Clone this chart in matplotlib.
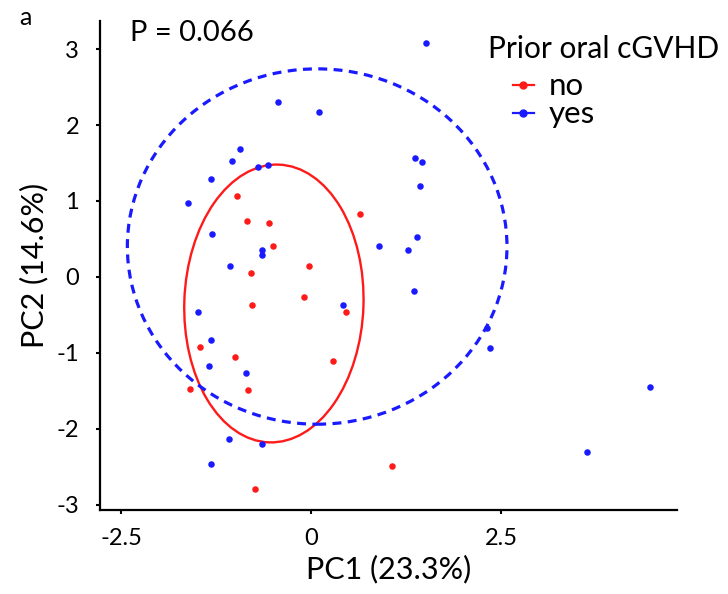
import numpy as np
import matplotlib.pyplot as plt
from matplotlib.patches import Ellipse
from matplotlib.lines import Line2D

plt.rcParams['font.family'] = ['Lato', 'DejaVu Sans']

# PCA scores
no_pc1 = [-0.97, -0.85, -0.55, 0.64, -0.50, -0.03, -0.79, -0.09, -0.78, 0.46,
          -1.46, -1.00, 0.29, -1.59, -0.83, -0.74, 1.06]
no_pc2 = [1.07, 0.74, 0.71, 0.83, 0.41, 0.14, 0.05, -0.27, -0.37, -0.46,
          -0.92, -1.06, -1.11, -1.48, -1.49, -2.79, -2.49]

yes_pc1 = [-0.44, 0.11, -0.94, -1.04, -0.70, -0.57, -1.32, -1.62, -1.30, -0.65,
           -0.65, -1.07, 1.51, 1.37, 1.46, 1.44, 1.40, 0.90, 1.27, 1.36,
           -1.49, 0.42, -1.32, -1.35, -0.86, -1.08, -0.65, -1.32, 2.32, 2.36,
           4.46, 3.63]
yes_pc2 = [2.30, 2.17, 1.68, 1.52, 1.45, 1.47, 1.29, 0.97, 0.57, 0.35,
           0.29, 0.15, 3.08, 1.56, 1.51, 1.20, 0.53, 0.41, 0.36, -0.18,
           -0.46, -0.37, -0.83, -1.17, -1.26, -2.14, -2.20, -2.46, -0.67, -0.94,
           -1.45, -2.31]

# ellipses (center, full width, full height, angle) as drawn
no_ell = (-0.49, -0.35, 2.36, 3.66, -2)
yes_ell = (0.08, 0.40, 5.0, 4.68, 0)

red = '#ff1a1a'
blue = '#1a1aff'

fig = plt.figure(figsize=(7.28, 5.94), dpi=100)
ax = fig.add_axes([0.1374, 0.1414, 0.7926, 0.8232])

ax.scatter(no_pc1, no_pc2, s=22, color=red, zorder=3, linewidths=0)
ax.scatter(yes_pc1, yes_pc2, s=22, color=blue, zorder=3, linewidths=0)

cx, cy, w, h, a = no_ell
ax.add_patch(Ellipse((cx, cy), w, h, angle=a, fill=False, edgecolor=red, lw=1.7))
cx, cy, w, h, a = yes_ell
ax.add_patch(Ellipse((cx, cy), w, h, angle=a, fill=False, edgecolor=blue, lw=2.3,
                     linestyle=(0, (2.8, 2.0))))

ax.set_xlim(-2.78, 4.82)
ax.set_ylim(-3.07, 3.37)
ax.set_xticks([-2.5, 0, 2.5])
ax.set_xticklabels(['-2.5', '0', '2.5'])
ax.set_yticks([-3, -2, -1, 0, 1, 2, 3])
ax.set_yticklabels(['-3', '-2', '-1', '0', '1', '2', '3'])
ax.tick_params(labelsize=17, width=1.5, length=3, color='black')
ax.tick_params(axis='x', pad=10)
ax.tick_params(axis='y', pad=12)
for s in ['top', 'right']:
    ax.spines[s].set_visible(False)
for s in ['left', 'bottom']:
    ax.spines[s].set_linewidth(1.6)

ax.set_xlabel('PC1 (23.3%)', fontsize=22, labelpad=4)
ax.set_ylabel('PC2 (14.6%)', fontsize=22, labelpad=6)

fig.text(0.178, 0.967, 'P = 0.066', fontsize=21, va='top')
fig.text(0.026, 0.99, 'a', fontsize=18, va='top')

# legend title and entries
fig.text(0.671, 0.918, 'Prior oral cGVHD', fontsize=21.5, va='center')
handles = [Line2D([0], [0], color=red, marker='o', markersize=5, lw=1.6),
           Line2D([0], [0], color=blue, marker='o', markersize=5, lw=1.6)]
leg = fig.legend(handles, ['no', 'yes'], loc='upper left',
                 bbox_to_anchor=(0.704, 0.878), frameon=False, fontsize=22.5,
                 handlelength=0.7, handletextpad=0.45, labelspacing=0.0,
                 borderpad=0, borderaxespad=0)

fig.savefig('out.png', dpi=100)
